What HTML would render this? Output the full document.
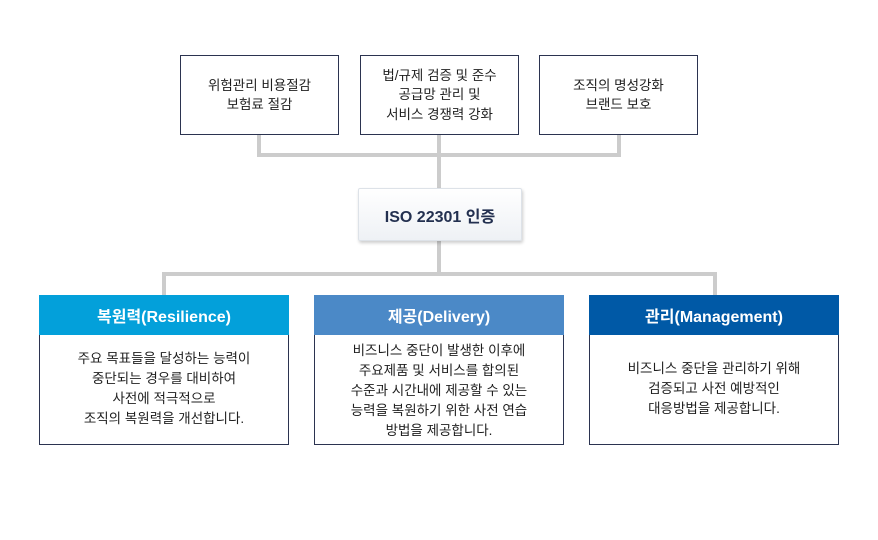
<!DOCTYPE html>
<html><head><meta charset="utf-8"><style>
*{margin:0;padding:0;box-sizing:border-box}
body{width:878px;height:540px;background:#fff;position:relative;overflow:hidden;font-family:"Liberation Sans","Noto Sans CJK KR",sans-serif;color:#1e1e1e}
.l{position:absolute;background:#cccccc}
.top{position:absolute;top:55px;width:159px;height:80px;border:1px solid #2b3350;display:flex;align-items:center;justify-content:center;text-align:center;font-size:13.5px;line-height:19.5px}
.iso{position:absolute;left:358px;top:188px;width:164px;height:53px;border:1px solid #dde2e8;border-radius:2px;background:linear-gradient(#fff,#eef1f5);box-shadow:1px 2px 3px rgba(0,0,0,.2);display:flex;align-items:center;justify-content:center;font-size:16px;font-weight:bold;color:#233050}
.b{position:absolute;top:295px;width:250px;height:150px;border:1px solid #2b3350;background:#fff}
.h{height:40px;margin:-1px -1px 0;color:#fff;font-weight:bold;font-size:16px;display:flex;align-items:center;justify-content:center}
.t{display:flex;align-items:center;justify-content:center;height:108px;text-align:center;font-size:13.5px;line-height:20px}
</style></head><body>
<div class="l" style="left:257px;top:134px;width:4px;height:23px"></div>
<div class="l" style="left:617px;top:134px;width:4px;height:23px"></div>
<div class="l" style="left:257px;top:153px;width:364px;height:4px"></div>
<div class="l" style="left:437px;top:134px;width:4px;height:55px"></div>
<div class="l" style="left:437px;top:240px;width:4px;height:35px"></div>
<div class="l" style="left:162px;top:272px;width:555px;height:4px"></div>
<div class="l" style="left:162px;top:272px;width:4px;height:24px"></div>
<div class="l" style="left:713px;top:272px;width:4px;height:24px"></div>
<div class="top" style="left:180px">위험관리 비용절감<br>보험료 절감</div>
<div class="top" style="left:360px">법/규제 검증 및 준수<br>공급망 관리 및<br>서비스 경쟁력 강화</div>
<div class="top" style="left:539px">조직의 명성강화<br>브랜드 보호</div>
<div class="iso">ISO 22301 인증</div>
<div class="b" style="left:39px"><div class="h" style="background:#03a0da">복원력(Resilience)</div><div class="t">주요 목표들을 달성하는 능력이<br>중단되는 경우를 대비하여<br>사전에 적극적으로<br>조직의 복원력을 개선합니다.</div></div>
<div class="b" style="left:314px"><div class="h" style="background:#4b89c7">제공(Delivery)</div><div class="t" style="padding-top:3px">비즈니스 중단이 발생한 이후에<br>주요제품 및 서비스를 합의된<br>수준과 시간내에 제공할 수 있는<br>능력을 복원하기 위한 사전 연습<br>방법을 제공합니다.</div></div>
<div class="b" style="left:589px"><div class="h" style="background:#0059a6">관리(Management)</div><div class="t">비즈니스 중단을 관리하기 위해<br>검증되고 사전 예방적인<br>대응방법을 제공합니다.</div></div>
</body></html>
